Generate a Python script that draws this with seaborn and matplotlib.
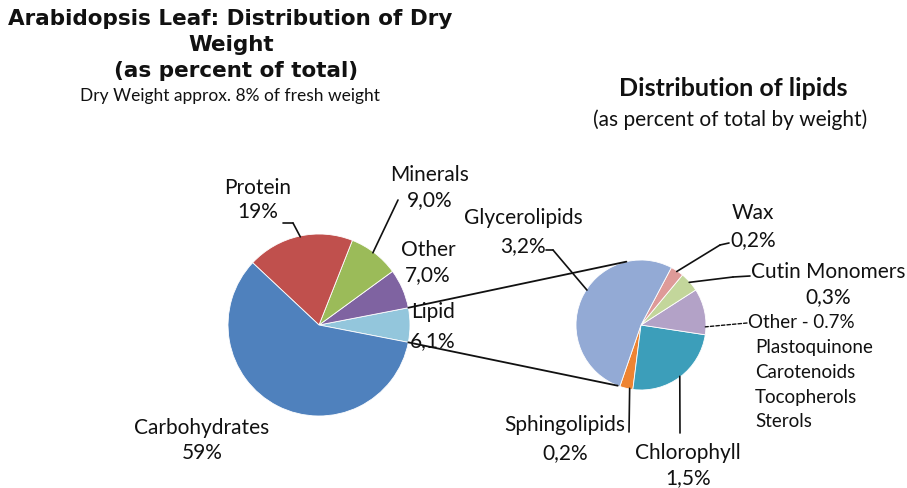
import numpy as np
import matplotlib.pyplot as plt
import seaborn as sns
from matplotlib.patches import ConnectionPatch
from matplotlib.lines import Line2D

# Data
dry_labels = ['Lipid', 'Other', 'Minerals', 'Protein', 'Carbohydrates']
dry_values = [6.1, 7.0, 9.0, 19, 59]
dry_texts = ['6,1%', '7,0%', '9,0%', '19%', '59%']
dry_colors = ['#93C6DC', '#7F63A1', '#9BBB59', '#C0504D', '#4F81BD']

lip_labels = ['Sphingolipids', 'Chlorophyll', 'Other', 'Cutin Monomers', 'Wax', 'Glycerolipids']
lip_values = [0.2, 1.5, 0.7, 0.3, 0.2, 3.2]
lip_texts = ['0,2%', '1,5%', 'Other - 0.7%', '0,3%', '0,2%', '3,2%']
lip_colors = ['#EE8432', '#3C9EBA', '#B3A2C7', '#C3D69B', '#DE9A98', '#93AAD5']
other_items = ['Plastoquinone', 'Carotenoids', 'Tocopherols', 'Sterols']

W, H = 907, 488
sns.set_theme(style='white')
plt.rcParams['font.family'] = ['Lato', 'DejaVu Sans']

fig = plt.figure(figsize=(W / 100, H / 100), dpi=100)
fig.patch.set_facecolor('white')
INK = '#111111'


def fpos(x, y):
    return (x / W, 1 - y / H)


def pie_axes(cx, cy, r):
    ax = fig.add_axes([(cx - r) / W, (H - cy - r) / H, 2 * r / W, 2 * r / H])
    ax.axis('off')
    return ax


def edge(wedge, where=0.5, r=1.0):
    a = np.deg2rad(wedge.theta1 + where * (wedge.theta2 - wedge.theta1))
    return (r * np.cos(a), r * np.sin(a))


def label(x, y1, y2, top, bottom, size=15):
    fig.text(*fpos(x, y1), top, ha='center', va='center', fontsize=size, color=INK)
    fig.text(*fpos(x, y2), bottom, ha='center', va='center', fontsize=size, color=INK)


def leader(ax, wedge, where, pts, ls='-', lw=1.2):
    # pts: figure pixel points starting from the label side
    for (xa, ya), (xb, yb) in zip(pts[:-1], pts[1:]):
        fig.add_artist(Line2D([xa / W, xb / W], [1 - ya / H, 1 - yb / H],
                              transform=fig.transFigure, color=INK, lw=lw, ls=ls))
    ax.annotate('', xy=edge(wedge, where, 0.99), xycoords='data',
                xytext=fpos(*pts[-1]), textcoords='figure fraction',
                arrowprops=dict(arrowstyle='-', color=INK, lw=lw, ls=ls, shrinkA=0, shrinkB=0))


ax1 = pie_axes(319, 325, 91)
w1, _ = ax1.pie(dry_values, colors=dry_colors, startangle=-11, radius=1,
                wedgeprops=dict(linewidth=0.6, edgecolor='white'))
ax1.set_xlim(-1, 1)
ax1.set_ylim(-1, 1)

ax2 = pie_axes(641, 325, 65)
w2, _ = ax2.pie(lip_values, colors=lip_colors, startangle=-109, radius=1,
                wedgeprops=dict(linewidth=0.6, edgecolor='white'))
ax2.set_xlim(-1, 1)
ax2.set_ylim(-1, 1)

# lines from the lipid slice to the second pie
lip = w1[0]
for a1, a2 in [(lip.theta2, 103), (lip.theta1, -111)]:
    p1 = (np.cos(np.deg2rad(a1)), np.sin(np.deg2rad(a1)))
    p2 = (np.cos(np.deg2rad(a2)), np.sin(np.deg2rad(a2)))
    con = ConnectionPatch(xyA=p1, coordsA=ax1.transData, xyB=p2, coordsB=ax2.transData,
                          color=INK, lw=1.3)
    fig.add_artist(con)

title_kw = dict(ha='center', va='center', fontsize=15.5, fontweight='bold',
                family=['DejaVu Sans'], color=INK)
fig.text(*fpos(230, 19), 'Arabidopsis Leaf: Distribution of Dry', **title_kw)
fig.text(*fpos(231, 45), 'Weight', **title_kw)
fig.text(*fpos(236, 71), '(as percent of total)', **title_kw)
fig.text(*fpos(230, 96), 'Dry Weight approx. 8% of fresh weight', ha='center', va='center',
         fontsize=12.5, color=INK)

fig.text(*fpos(733, 89), 'Distribution of lipids', ha='center', va='center',
         fontsize=18, fontweight='bold', color=INK)
fig.text(*fpos(730, 120), '(as percent of total by weight)', ha='center', va='center',
         fontsize=15, color=INK)

# left pie labels
label(258, 188, 212, 'Protein', dry_texts[3])
leader(ax1, w1[3], 0.49, [(283, 223), (293, 223)])
label(430, 175, 200, 'Minerals', dry_texts[2])
leader(ax1, w1[2], 0.53, [(398, 200)])
label(428, 250, 275, 'Other', dry_texts[1])
label(433, 312, 341, 'Lipid', dry_texts[0])
label(202, 428, 453, 'Carbohydrates', dry_texts[4])

# right pie labels
label(523, 218, 246, 'Glycerolipids', lip_texts[5])
leader(ax2, w2[5], 0.45, [(546, 250), (553, 250)])
label(753, 213, 240, 'Wax', lip_texts[4])
leader(ax2, w2[4], 0.5, [(729, 243), (720, 245)])
label(828, 272, 297, 'Cutin Monomers', lip_texts[3])
leader(ax2, w2[3], 0.5, [(750, 276), (733, 277)])
fig.text(*fpos(748, 323), lip_texts[2], ha='left', va='center', fontsize=13.5, color=INK)
leader(ax2, w2[2], 0.17, [(747, 323)], ls=(0, (2.5, 1.5)), lw=1.0)
for i, item in enumerate(other_items):
    fig.text(*fpos(755, 348 + i * 24.5), item, ha='left', va='center',
             fontsize=13.5, color=INK)
label(565, 425, 453, 'Sphingolipids', lip_texts[0])
leader(ax2, w2[0], 0.75, [(629, 432)])
label(688, 453, 478, 'Chlorophyll', lip_texts[1])
leader(ax2, w2[1], 0.5, [(680, 433)])

fig.savefig('out.png', dpi=100, facecolor='white')
